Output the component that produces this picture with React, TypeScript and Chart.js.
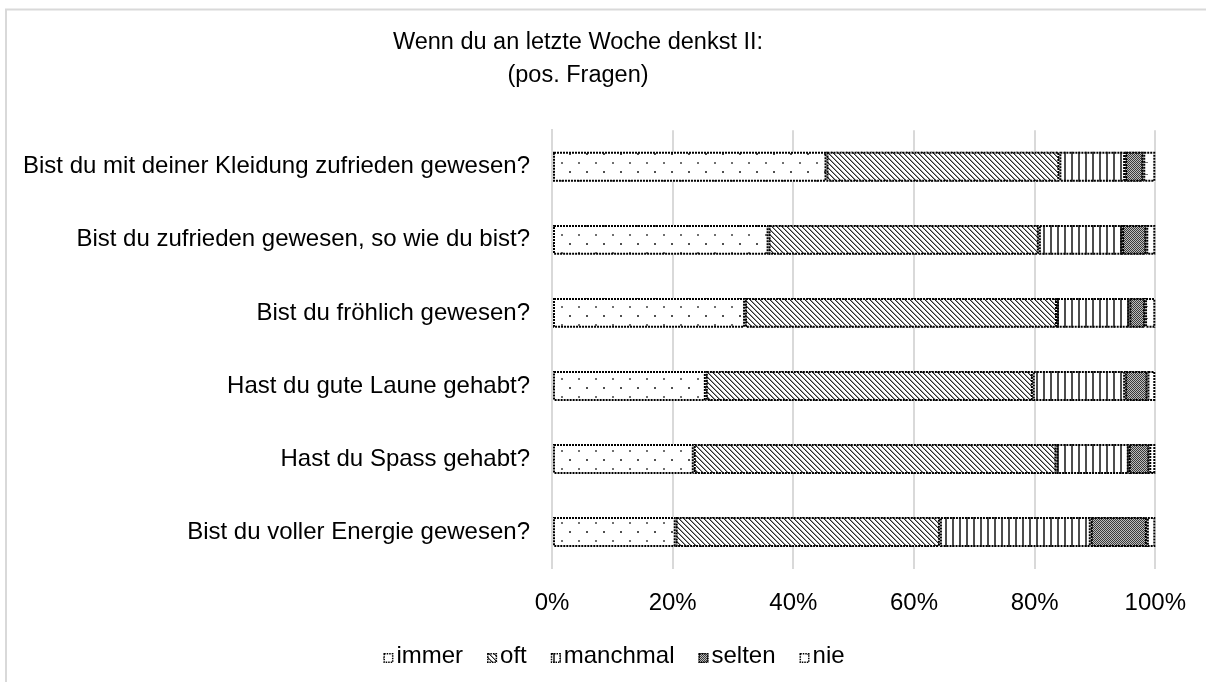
import React, { useEffect, useRef } from 'react';
import { Chart, registerables } from 'chart.js';

Chart.register(...registerables);

const FONT = '"Liberation Sans", Arial, Helvetica, sans-serif';

const titleLines = ['Wenn du an letzte Woche denkst II:', '(pos. Fragen)'];

const categories = [
  'Bist du mit deiner Kleidung zufrieden gewesen?',
  'Bist du zufrieden gewesen, so wie du bist?',
  'Bist du fröhlich gewesen?',
  'Hast du gute Laune gehabt?',
  'Hast du Spass gehabt?',
  'Bist du voller Energie gewesen?',
];

const seriesNames = ['immer', 'oft', 'manchmal', 'selten', 'nie'];

const immer = [45.5, 35.9, 32.0, 25.5, 23.5, 20.5];
const oft = [38.6, 44.8, 51.7, 54.2, 60.1, 43.8];
const manchmal = [10.9, 13.8, 12.0, 15.3, 12.0, 25.0];
const selten = [3.0, 4.0, 2.6, 3.7, 3.4, 9.3];
const nie = [2.0, 1.5, 1.7, 1.3, 1.0, 1.4];

const xTickValues = [0, 20, 40, 60, 80, 100];

function makePattern(kind: string): CanvasPattern {
  const c = document.createElement('canvas');
  let w = 8;
  let h = 8;
  if (kind === 'immer') { w = 17; h = 18; }
  if (kind === 'oft') { w = 5; h = 5; }
  if (kind === 'manchmal') { w = 7; h = 1; }
  if (kind === 'selten') { w = 2; h = 2; }
  if (kind === 'nie') { w = 12; h = 12; }
  c.width = w;
  c.height = h;
  const g = c.getContext('2d') as CanvasRenderingContext2D;
  g.fillStyle = '#ffffff';
  g.fillRect(0, 0, w, h);
  const px = (x: number, y: number, col: string, pw = 1, ph = 1) => {
    g.fillStyle = col;
    g.fillRect(x, y, pw, ph);
  };
  if (kind === 'immer') {
    px(0, 0, '#707070', 2, 2);
    px(8, 9, '#505050', 2, 2);
  } else if (kind === 'oft') {
    for (let i = 0; i < 5; i++) {
      px(i, i, '#2a2a2a');
      px((i + 1) % 5, i, '#9a9a9a');
    }
  } else if (kind === 'manchmal') {
    px(0, 0, '#4d4d4d', 2, 1);
  } else if (kind === 'selten') {
    px(0, 0, '#3a3a3a');
    px(1, 1, '#3a3a3a');
    px(1, 0, '#bdbdbd');
    px(0, 1, '#bdbdbd');
  } else if (kind === 'nie') {
    px(3, 6, '#7a7a7a', 5, 1);
  }
  return g.createPattern(c, 'repeat') as CanvasPattern;
}

const framePlugin = {
  id: 'frame',
  beforeDraw(chart: any) {
    const ctx = chart.ctx as CanvasRenderingContext2D;
    ctx.save();
    ctx.fillStyle = '#ffffff';
    ctx.fillRect(0, 0, chart.width, chart.height);
    ctx.strokeStyle = '#d9d9d9';
    ctx.lineWidth = 2;
    ctx.beginPath();
    ctx.moveTo(6, chart.height);
    ctx.lineTo(6, 9.5);
    ctx.lineTo(chart.width, 9.5);
    ctx.stroke();
    ctx.restore();
  },
};

const barBorderPlugin = {
  id: 'barBorders',
  afterDatasetsDraw(chart: any) {
    const ctx = chart.ctx as CanvasRenderingContext2D;
    ctx.save();
    ctx.strokeStyle = '#000000';
    ctx.lineWidth = 2;
    ctx.setLineDash([2, 1]);
    chart.data.datasets.forEach((_ds: any, i: number) => {
      const meta = chart.getDatasetMeta(i);
      meta.data.forEach((el: any) => {
        const p = el.getProps(['x', 'y', 'base', 'height'], true);
        const left = Math.min(p.x, p.base);
        const right = Math.max(p.x, p.base);
        const top = p.y - p.height / 2;
        if (right - left < 0.5) return;
        ctx.strokeRect(left + 1, top + 1, right - left - 2, p.height - 2);
      });
    });
    ctx.restore();
  },
};

const legendPlugin = {
  id: 'customLegend',
  afterDraw(chart: any) {
    const ctx = chart.ctx as CanvasRenderingContext2D;
    const datasets = chart.data.datasets;
    ctx.save();
    ctx.font = `24px ${FONT}`;
    const box = 10;
    const gapText = 3;
    const gapItem = 24;
    const widths = datasets.map((d: any) => box + gapText + ctx.measureText(d.label).width);
    const total = widths.reduce((a: number, b: number) => a + b, 0) + gapItem * (widths.length - 1);
    let x = 614 - total / 2;
    const baseline = 663;
    datasets.forEach((d: any, i: number) => {
      ctx.fillStyle = d.backgroundColor;
      ctx.fillRect(x, baseline - 10, box, box);
      ctx.strokeStyle = '#000';
      ctx.lineWidth = 1.5;
      ctx.setLineDash([1.5, 1]);
      ctx.strokeRect(x + 0.75, baseline - 9.25, box - 1.5, box - 1.5);
      ctx.setLineDash([]);
      ctx.fillStyle = '#000';
      ctx.textBaseline = 'alphabetic';
      ctx.textAlign = 'left';
      ctx.fillText(d.label, x + box + gapText, baseline);
      x += widths[i] + gapItem;
    });
    ctx.restore();
  },
};

export default function App() {
  const canvasRef = useRef<HTMLCanvasElement | null>(null);

  useEffect(() => {
    const canvas = canvasRef.current;
    if (!canvas) return;
    const seriesValues = [immer, oft, manchmal, selten, nie];
    const datasets = seriesNames.map((name, i) => ({
      label: name,
      data: seriesValues[i],
      backgroundColor: makePattern(name),
      borderWidth: 0,
      barPercentage: 0.41,
      categoryPercentage: 1,
    }));

    const chart = new Chart(canvas, {
      type: 'bar',
      data: { labels: categories, datasets },
      plugins: [framePlugin, barBorderPlugin, legendPlugin],
      options: {
        indexAxis: 'y',
        animation: false,
        responsive: false,
        maintainAspectRatio: false,
        layout: { padding: { left: 0, right: 50, top: 0, bottom: 0 } },
        plugins: {
          legend: { display: false },
          tooltip: { enabled: false },
          title: {
            display: true,
            text: titleLines,
            color: '#000',
            font: { family: FONT, size: 23.5, weight: 'normal', lineHeight: 1.4 },
            padding: { top: 26, bottom: 38.5 },
          },
        },
        scales: {
          x: {
            stacked: true,
            min: 0,
            max: 100,
            afterBuildTicks: (scale: any) => {
              scale.ticks = xTickValues.map((v) => ({ value: v }));
            },
            ticks: {
              callback: (v: any) => `${v}%`,
              color: '#000',
              font: { family: FONT, size: 24 },
              padding: 20,
              maxRotation: 0,
            },
            grid: { color: '#d9d9d9', lineWidth: 2, drawTicks: false },
            border: { display: false },
            afterFit: (scale: any) => {
              scale.height = 113.5;
            },
          },
          y: {
            stacked: true,
            grid: { display: false, drawTicks: false },
            border: { color: '#d9d9d9', width: 2 },
            ticks: {
              color: '#000',
              font: { family: FONT, size: 24 },
              padding: 22,
            },
            afterFit: (scale: any) => {
              scale.width = 552;
            },
          },
        },
      } as any,
    });
    return () => chart.destroy();
  }, []);

  return (
    <div style={{ position: 'fixed', left: 0, top: 0, width: 1206, height: 682, background: '#fff' }}>
      <canvas ref={canvasRef} width={1206} height={682} style={{ width: 1206, height: 682, display: 'block' }} />
    </div>
  );
}
